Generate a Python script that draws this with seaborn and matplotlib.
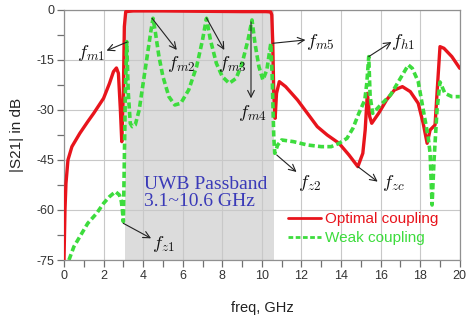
import numpy as np
import pandas as pd
import matplotlib
matplotlib.use("Agg")
import matplotlib.pyplot as plt
from matplotlib.ticker import MultipleLocator
from matplotlib.lines import Line2D
import seaborn as sns

# ---- data ----
opt_freq = [0.0, 0.05, 0.1, 0.2, 0.4, 0.8, 1.2, 1.5, 2.0, 2.3, 2.5, 2.65, 2.75, 2.85, 2.92,
            3.0, 3.05, 3.12, 3.5, 5.0, 7.0, 9.0, 10.2, 10.45, 10.5, 10.55, 10.6, 10.67, 10.74,
            10.88, 11.2, 11.8, 12.3, 12.8, 13.3, 13.9, 14.4, 14.85, 15.1, 15.22, 15.33, 15.45,
            15.55, 15.9, 16.3, 16.7, 17.1, 17.5, 17.9, 18.15, 18.35, 18.5, 18.75, 18.85, 19.0,
            19.2, 19.6, 20.0]
opt_db = [-75, -60, -52, -45, -41, -37, -33.5, -31, -26.5, -22, -18.5, -17.4, -19, -30, -39.5,
          -25, -5, -0.5, -0.3, -0.3, -0.4, -0.5, -0.5, -0.6, -1.5, -10, -25, -32.5, -25,
          -21.5, -23, -27, -31, -35, -37.5, -40, -43.5, -47, -43, -36, -25, -32,
          -34, -31, -27, -24, -23, -24.5, -28, -34, -40, -36, -34.5, -25, -11,
          -11.5, -14, -17.5]

weak_freq = [0.25, 0.5, 0.8, 1.2, 1.65, 2.0, 2.3, 2.6, 2.8, 2.9, 2.95, 3.0, 3.05, 3.1, 3.17,
             3.25, 3.35, 3.45, 3.6, 3.8, 4.0, 4.2, 4.4, 4.5, 4.6, 4.8, 5.0, 5.3, 5.6, 5.9,
             6.3, 6.7, 7.0, 7.2, 7.4, 7.7, 8.0, 8.35, 8.7, 9.0, 9.3, 9.5, 9.65, 9.85, 10.05,
             10.25, 10.45, 10.52, 10.6, 10.65, 10.8, 11.0, 11.6, 12.3, 13.0, 13.5, 13.9, 14.3,
             14.6, 14.9, 15.2, 15.3, 15.4, 15.47, 15.6, 16.0, 16.5, 17.1, 17.4, 17.6, 17.9,
             18.2, 18.4, 18.5, 18.6, 18.7, 18.85, 19.0, 19.25, 19.6, 20.0]
weak_db = [-75, -71, -68, -64, -61, -58, -56, -54.5, -55.5, -57.5, -60, -63.5, -45, -25, -9.5,
           -25, -34, -35, -34.5, -30, -22, -14, -6, -2.5, -6, -14, -20, -26, -28.5, -28,
           -24, -17, -9, -2.5, -9, -16, -20, -22, -20.5, -16, -9, -3, -10, -17, -21,
           -18, -10, -20, -38, -43, -40.5, -39, -39.5, -40.5, -41, -41, -40, -38.5,
           -35.5, -31, -27, -22, -14, -26, -31, -28.5, -25.5, -19.5, -16.5, -17.5, -21.5,
           -31.5, -38, -43, -58.5, -45, -30, -21.6, -25, -26, -26]

series_names = ["Optimal coupling", "Weak coupling"]
band_edges = [3.1, 10.6]
x_ticks = [0, 2, 4, 6, 8, 10, 12, 14, 16, 18, 20]
y_ticks = [0, -15, -30, -45, -60, -75]

# labels: (text, arrow tail on curve, arrow head, text position)
labels = [
    (r"$f_{m1}$", (3.2, -9.6), (2.15, -12.2), (1.35, -12.8)),
    (r"$f_{m2}$", (4.45, -2.5), (5.7, -12.0), (5.95, -16.2)),
    (r"$f_{m3}$", (7.2, -2.4), (8.1, -12.0), (8.5, -16.2)),
    (r"$f_{m4}$", (9.45, -3.6), (9.45, -26.5), (9.5, -30.8)),
    (r"$f_{m5}$", (10.55, -10.0), (12.2, -9.0), (12.95, -9.6)),
    (r"$f_{h1}$", (15.4, -14.0), (16.55, -9.6), (17.15, -9.6)),
    (r"$f_{z2}$", (10.75, -43.5), (11.75, -48.6), (12.4, -52.0)),
    (r"$f_{zc}$", (14.85, -47.0), (15.85, -51.5), (16.65, -52.0)),
    (r"$f_{z1}$", (3.0, -64.0), (4.4, -68.5), (5.0, -70.3)),
]

red = "#e8141c"
green = "#3ddc3d"

df_opt = pd.DataFrame({"freq": opt_freq, "db": opt_db, "series": series_names[0]})
df_weak = pd.DataFrame({"freq": weak_freq, "db": weak_db, "series": series_names[1]})

sns.set_style("white")
plt.rcParams["mathtext.fontset"] = "cm"

fig = plt.figure(figsize=(4.74, 3.21), dpi=100)
ax = fig.add_axes([0.135, 0.19, 0.835, 0.779])

ax.axvspan(band_edges[0], band_edges[1], color="#dcdcdc", zorder=0, lw=0)

sns.lineplot(data=df_opt, x="freq", y="db", ax=ax, sort=False, estimator=None,
             color=red, lw=2.4, zorder=3)
sns.lineplot(data=df_weak, x="freq", y="db", ax=ax, sort=False, estimator=None,
             color=green, lw=2.6, linestyle=(0, (1.7, 0.9)), zorder=4)

ax.set_xlim(0, 20)
ax.set_ylim(-75, 0)
ax.set_xticks(x_ticks)
ax.set_yticks(y_ticks)
ax.xaxis.set_minor_locator(MultipleLocator(1))
ax.yaxis.set_minor_locator(MultipleLocator(7.5))
ax.grid(True, which="major", color="#c8c8c8", lw=0.8, zorder=1)
ax.set_axisbelow(True)
for s in ax.spines.values():
    s.set_color("#909090")
    s.set_linewidth(0.9)
ax.tick_params(which="major", direction="out", length=5, width=0.9, color="#707070",
               labelsize=9, labelcolor="#333333", pad=2, bottom=True, left=True)
ax.tick_params(which="minor", direction="out", length=5, width=0.9, color="#707070",
               bottom=True, left=True)
ax.set_yticklabels([str(v) for v in y_ticks], family="Liberation Sans")
ax.set_xticklabels([str(v) for v in x_ticks], family="Liberation Sans")
ax.set_xlabel("freq, GHz", fontsize=10.5, family="Liberation Sans", color="#222222", labelpad=14)
ax.set_ylabel("|S21| in dB", fontsize=11, family="Liberation Sans", color="#222222", labelpad=9)

for txt, tail, head, tpos in labels:
    ax.annotate("", xy=head, xytext=tail,
                arrowprops=dict(arrowstyle="->", lw=0.8, color="#222222",
                                shrinkA=0, shrinkB=0, mutation_scale=12), zorder=6)
    ax.text(tpos[0], tpos[1], txt, fontsize=13.5, ha="center", va="center", color="#111111",
            zorder=6)

ax.text(4.05, -54.8, "UWB Passband\n3.1~10.6 GHz", fontsize=14, family="Liberation Serif",
        color="#3a3ab8", ha="left", va="center", linespacing=1.0, zorder=5)

handles = [Line2D([], [], color=red, lw=2.0),
           Line2D([], [], color=green, lw=2.0, linestyle=(0, (1.7, 0.9)))]
leg = ax.legend(handles, series_names, loc="lower left", bbox_to_anchor=(0.53, 0.005),
                frameon=False, handlelength=2.2, handletextpad=0.25,
                labelspacing=0.3, prop={"family": "Liberation Sans", "size": 11})
for t, c in zip(leg.get_texts(), [red, green]):
    t.set_color(c)

fig.savefig("out.png", dpi=100)
